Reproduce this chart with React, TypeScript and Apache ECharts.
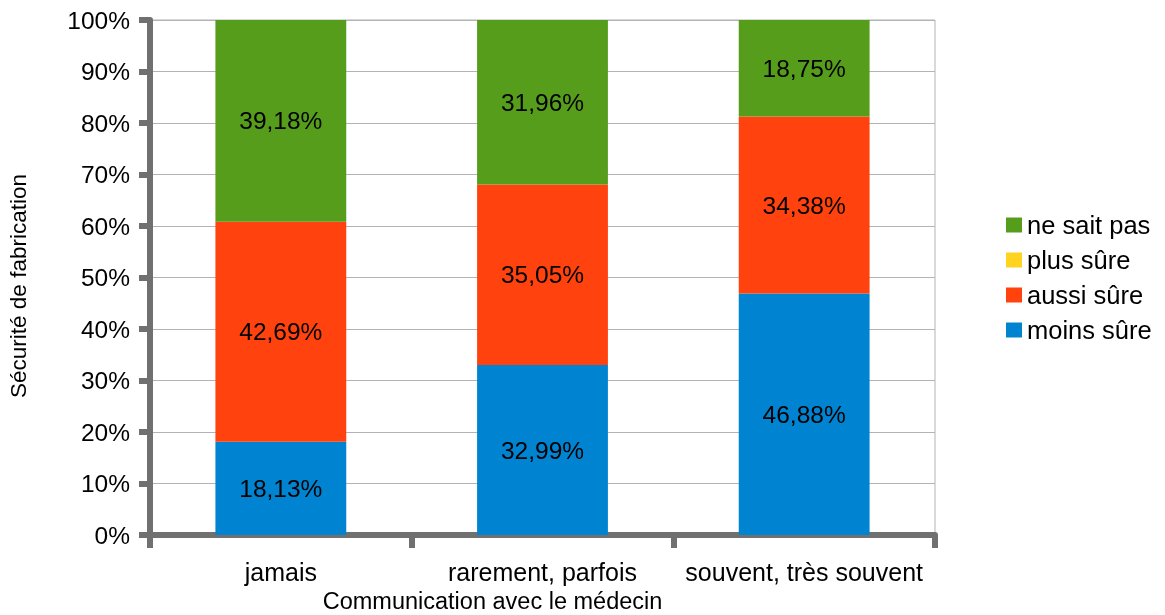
import React, { useEffect, useRef } from "react";
import * as echarts from "echarts";

const categories = ["jamais", "rarement, parfois", "souvent, très souvent"];
const moinsSure = [18.13, 32.99, 46.88];
const aussiSure = [42.69, 35.05, 34.38];
const plusSure = [0, 0, 0];
const neSaitPas = [39.18, 31.96, 18.75];
const legendOrder = ["ne sait pas", "plus sûre", "aussi sûre", "moins sûre"];

const FONT = "Liberation Sans, Arial, sans-serif";

const fmt = (v: number) => v.toFixed(2).replace(".", ",") + "%";

export default function App() {
  const ref = useRef<HTMLDivElement>(null);
  useEffect(() => {
    if (!ref.current) return;
    const chart = echarts.init(ref.current, undefined, { renderer: "svg" });
    const mk = (name: string, data: number[], color: string) => ({
      name,
      type: "bar",
      stack: "total",
      data,
      barWidth: "50%",
      itemStyle: { color },
      label: {
        show: true,
        position: "inside",
        color: "#000",
        fontFamily: FONT,
        fontSize: 24.5,
        formatter: (p: any) => (p.value > 0 ? fmt(p.value) : ""),
      },
    });
    chart.setOption({
      animation: false,
      textStyle: { fontFamily: FONT },
      grid: {
        left: 150,
        top: 20,
        width: 785,
        height: 515,
        show: true,
        borderColor: "#b3b3b3",
        borderWidth: 1,
        backgroundColor: "transparent",
      },
      legend: {
        orient: "vertical",
        left: 1001,
        top: 207,
        itemWidth: 16,
        itemHeight: 15,
        itemGap: 9,
        icon: "rect",
        data: legendOrder,
        textStyle: { fontSize: 25.5, lineHeight: 26, color: "#000", fontFamily: FONT, padding: [0, 0, 0, 0] },
      },
      xAxis: {
        type: "category",
        data: categories,
        axisLine: { lineStyle: { color: "#707070", width: 6 } },
        axisTick: { show: true, interval: 0, length: 13, lineStyle: { color: "#707070", width: 6 } },
        axisLabel: { color: "#000", fontSize: 25, margin: 24, interval: 0, hideOverlap: false, fontFamily: FONT },
      },
      yAxis: {
        type: "value",
        min: 0,
        max: 100,
        interval: 10,
        axisLine: { show: true, lineStyle: { color: "#707070", width: 6 } },
        axisTick: { show: true, length: 11, lineStyle: { color: "#707070", width: 6 } },
        axisLabel: { color: "#000", fontSize: 24.5, margin: 20, fontFamily: FONT, formatter: (v: number) => v + "%" },
        splitLine: { show: true, lineStyle: { color: "#b3b3b3", width: 1 } },
      },
      graphic: [
        {
          type: "text",
          x: 492.5,
          y: 601,
          style: {
            text: "Communication avec le médecin",
            fontSize: 23.5,
            fill: "#000",
            fontFamily: FONT,
            textAlign: "center",
            textVerticalAlign: "middle",
          },
        },
        {
          type: "text",
          x: 18,
          y: 286,
          rotation: Math.PI / 2,
          style: {
            text: "Sécurité de fabrication",
            fontSize: 22.5,
            fill: "#000",
            fontFamily: FONT,
            textAlign: "center",
            textVerticalAlign: "middle",
          },
        },
      ],
      series: [
        mk("moins sûre", moinsSure, "#0084d1"),
        mk("aussi sûre", aussiSure, "#ff420e"),
        mk("plus sûre", plusSure, "#ffd320"),
        mk("ne sait pas", neSaitPas, "#579d1c"),
      ],
    });
    return () => chart.dispose();
  }, []);
  return <div ref={ref} style={{ position: "fixed", left: 0, top: 0, width: 1165, height: 615 }} />;
}
